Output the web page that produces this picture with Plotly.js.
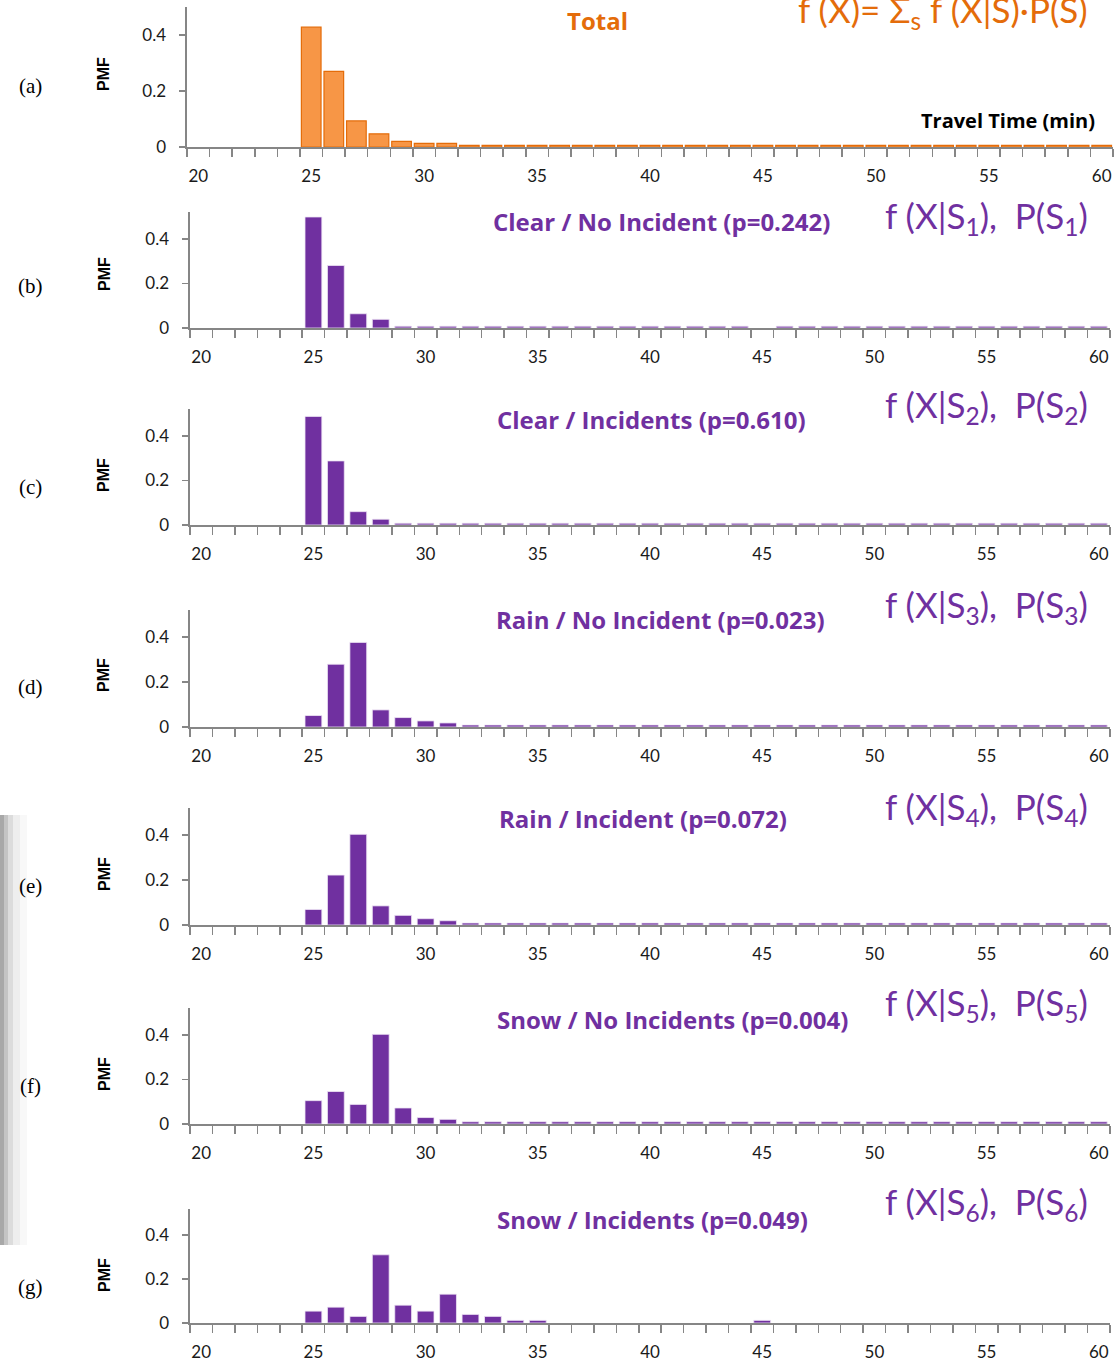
<!DOCTYPE html>
<html>
<head>
<meta charset="utf-8">
<script src="https://cdn.plot.ly/plotly-3.0.1.min.js"></script>
<style>html,body{margin:0;padding:0;background:#fff;}#chart{width:1116px;height:1361px;}</style>
</head>
<body>
<div id="chart"></div>
<script>
// Travel time categories (minutes)
const travelTime = [20,21,22,23,24,25,26,27,28,29,30,31,32,33,34,35,36,37,38,39,40,41,42,43,44,45,46,47,48,49,50,51,52,53,54,55,56,57,58,59,60];
const xTickLabels = ['20','25','30','35','40','45','50','55','60'];
const xTickVals = [20,25,30,35,40,45,50,55,60];
const yTickVals = [0,0.2,0.4];
const yTickLabels = ['0','0.2','0.4'];

// (a) Total
const pmfTotal = [0,0,0,0,0, 0.428,0.270,0.093,0.047,0.020,0.013,0.013,
  0.006,0.006,0.006,0.006,0.006,0.006,0.006,0.006,0.006,0.006,0.006,0.006,0.006,0.006,0.006,0.006,0.006,0.006,0.006,0.006,0.006,0.006,0.006,0.006,0.006,0.006,0.006,0.006,0.006];
// (b) Clear / No Incident
const pmfClearNo = [0,0,0,0,0, 0.499,0.281,0.064,0.039,
  0.008,0.008,0.008,0.008,0.008,0.008,0.008,0.008,0.008,0.008,0.008,0.008,0.008,0.008,0.008,0.008,
  0,
  0.008,0.008,0.008,0.008,0.008,0.008,0.008,0.008,0.008,0.008,0.008,0.008,0.008,0.008,0.008];
// (c) Clear / Incidents
const pmfClearInc = [0,0,0,0,0, 0.488,0.288,0.060,0.026,
  0.008,0.008,0.008,0.008,0.008,0.008,0.008,0.008,0.008,0.008,0.008,0.008,0.008,0.008,0.008,0.008,
  0.008,0.008,0.008,0.008,0.008,0.008,0.008,0.008,0.008,0.008,0.008,0.008,0.008,0.008,0.008,0.008];
// (d) Rain / No Incident
const pmfRainNo = [0,0,0,0,0, 0.051,0.279,0.376,0.076,0.042,0.027,0.018,
  0.009,0.009,0.009,0.009,0.009,0.009,0.009,0.009,0.009,0.009,0.009,0.009,0.009,0.009,0.009,0.009,0.009,0.009,0.009,0.009,0.009,0.009,0.009,0.009,0.009,0.009,0.009,0.009,0.009];
// (e) Rain / Incident
const pmfRainInc = [0,0,0,0,0, 0.069,0.222,0.403,0.085,0.043,0.028,0.019,
  0.009,0.009,0.009,0.009,0.009,0.009,0.009,0.009,0.009,0.009,0.009,0.009,0.009,0.009,0.009,0.009,0.009,0.009,0.009,0.009,0.009,0.009,0.009,0.009,0.009,0.009,0.009,0.009,0.009];
// (f) Snow / No Incidents
const pmfSnowNo = [0,0,0,0,0, 0.105,0.146,0.088,0.403,0.072,0.029,0.021,
  0.010,0.010,0.010,0.010,0.010,0.010,0.010,0.010,0.010,0.010,0.010,0.010,0.010,0.010,0.010,0.010,0.010,0.010,0.010,0.010,0.010,0.010,0.010,0.010,0.010,0.010,0.010,0.010,0.010];
// (g) Snow / Incidents
const pmfSnowInc = [0,0,0,0,0, 0.054,0.072,0.030,0.310,0.081,0.054,0.131,0.039,0.030,0.012,0.012,
  0,0,0,0,0,0,0,0,0,
  0.012,
  0,0,0,0,0,0,0,0,0,0,0,0,0,0,0];

const seriesList = [pmfTotal, pmfClearNo, pmfClearInc, pmfRainNo, pmfRainInc, pmfSnowNo, pmfSnowInc];
const panelLetters = ['(a)','(b)','(c)','(d)','(e)','(f)','(g)'];
const panelTitles = ['Total','Clear / No Incident (p=0.242)','Clear / Incidents (p=0.610)','Rain / No Incident (p=0.023)','Rain / Incident (p=0.072)','Snow / No Incidents (p=0.004)','Snow / Incidents (p=0.049)'];
const formulaTexts = ['f (X)= Σ<sub>s</sub> f (X|S)·P(S)',
  'f (X|S<sub>1</sub>),  P(S<sub>1</sub>)','f (X|S<sub>2</sub>),  P(S<sub>2</sub>)','f (X|S<sub>3</sub>),  P(S<sub>3</sub>)',
  'f (X|S<sub>4</sub>),  P(S<sub>4</sub>)','f (X|S<sub>5</sub>),  P(S<sub>5</sub>)','f (X|S<sub>6</sub>),  P(S<sub>6</sub>)'];
const xAxisTitle = 'Travel Time (min)';
const yAxisTitle = 'PMF';

// ---- layout geometry (pixels) ----
const W = 1116, H = 1361;
const px = p => p / W;
const py = p => 1 - p / H;
const ORANGE = '#F79646', ORANGE_DARK = '#E46C0A', PURPLE = '#7030A0', AXIS = '#868686';
const geo = [
  {zero:147, per:56,   ymax:0.50, x0:187, x1:1113, letterY:86,  titleX:597, titleY:21,  formY:12},
  {zero:328, per:44.5, ymax:0.52, x0:190, x1:1110, letterY:286, titleX:661, titleY:221, formY:217},
  {zero:525, per:44.5, ymax:0.52, x0:190, x1:1110, letterY:487, titleX:651, titleY:420, formY:407},
  {zero:727, per:45,   ymax:0.52, x0:190, x1:1110, letterY:687, titleX:660, titleY:620, formY:607},
  {zero:925, per:45,   ymax:0.52, x0:190, x1:1110, letterY:886, titleX:643, titleY:818, formY:808},
  {zero:1124,per:44.5, ymax:0.52, x0:190, x1:1110, letterY:1086,titleX:673, titleY:1019,formY:1005},
  {zero:1323,per:44,   ymax:0.52, x0:190, x1:1110, letterY:1287,titleX:652, titleY:1219,formY:1203}
];

const FONT = 'Lato, "Open Sans", sans-serif';
const TITLE_FONT = '"Open Sans", Lato, sans-serif';
const traces = [];
const layout = {
  width: W, height: H,
  margin: {l:0, r:0, t:0, b:0},
  paper_bgcolor: '#fff', plot_bgcolor: 'rgba(0,0,0,0)',
  showlegend: false,
  annotations: [], shapes: []
};

seriesList.forEach((vals, i) => {
  const g = geo[i];
  const sfx = i === 0 ? '' : String(i + 1);
  const isTotal = i === 0;
  const lw = isTotal ? 1.2 : 0.8;
  traces.push({
    type: 'bar', x: travelTime, y: vals,
    xaxis: 'x' + sfx, yaxis: 'y' + sfx,
    width: isTotal ? 0.87 : 0.75,
    marker: {color: isTotal ? ORANGE : PURPLE,
             line: {color: isTotal ? ORANGE_DARK : '#efe6f5', width: vals.map(v => v > 0 ? lw : 0)}},
    hoverinfo: 'x+y'
  });
  const top = g.zero - g.ymax / 0.2 * g.per;
  layout['xaxis' + sfx] = {
    domain: [px(g.x0), px(g.x1)], range: [19.5, 60.5], anchor: 'y' + sfx,
    tickmode: 'array', tickvals: xTickVals, ticktext: xTickLabels, ticks: '',
    minor: {tick0: 19.5, dtick: 1, ticks: 'outside', ticklen: 8, tickcolor: AXIS, tickwidth: 1.5, showgrid: false},
    showline: true, linecolor: AXIS, linewidth: 1.6,
    showgrid: false, zeroline: false, ticklabelstandoff: 13,
    tickfont: {family: FONT, size: 17, color: '#1a1a1a'}, fixedrange: true
  };
  layout['yaxis' + sfx] = {
    domain: [py(g.zero), py(top)], range: [0, g.ymax], anchor: 'x' + sfx,
    tickmode: 'array', tickvals: yTickVals, ticktext: yTickLabels,
    ticks: 'outside', ticklen: 6, tickcolor: AXIS, tickwidth: 1.5,
    showline: true, linecolor: AXIS, linewidth: 1.6,
    showgrid: false, zeroline: false, ticklabelstandoff: 10,
    tickfont: {family: FONT, size: 17, color: '#1a1a1a'}, fixedrange: true
  };
  // PMF label
  layout.annotations.push({xref:'paper', yref:'paper', x: px(104), y: py(g.letterY - 12), text: '<b>' + yAxisTitle + '</b>',
    textangle: -90, showarrow: false, xanchor: 'center', yanchor: 'middle',
    font: {family: '"Liberation Sans", Arial, sans-serif', size: 16, color: '#000'}});
  // panel letter
  layout.annotations.push({xref:'paper', yref:'paper', x: px(30), y: py(g.letterY), text: panelLetters[i],
    showarrow: false, xanchor: 'center', yanchor: 'middle',
    font: {family: '"Liberation Serif", "DejaVu Serif", serif', size: 21, color: '#000'}});
  // panel title
  layout.annotations.push({xref:'paper', yref:'paper', x: px(g.titleX), y: py(g.titleY), text: '<b>' + panelTitles[i] + '</b>',
    showarrow: false, xanchor: 'center', yanchor: 'middle',
    font: {family: TITLE_FONT, size: 24, color: isTotal ? ORANGE_DARK : PURPLE}});
  // formula
  layout.annotations.push({xref:'paper', yref:'paper', x: px(1090), y: py(g.formY), text: formulaTexts[i],
    showarrow: false, xanchor: 'right', yanchor: 'middle',
    font: {family: FONT, size: 35, color: isTotal ? ORANGE_DARK : PURPLE}});
});

// axis title in panel (a)
layout.annotations.push({xref:'paper', yref:'paper', x: px(1097), y: py(121), text: '<b>' + xAxisTitle + '</b>',
  showarrow: false, xanchor: 'right', yanchor: 'middle',
  font: {family: TITLE_FONT, size: 20, color: '#000'}});

// scanned page edge shadow on the left
[[0, 4, '#a8a8a8'], [4, 8, '#c4c4c4'], [8, 13, '#dcdcdc'], [13, 20, '#eeeeee'], [20, 27, '#f8f8f8']].forEach(s => {
  layout.shapes.push({type:'rect', xref:'paper', yref:'paper', x0: px(s[0]), x1: px(s[1]), y0: py(1245), y1: py(815),
    fillcolor: s[2], line: {width: 0}, layer: 'below'});
});

Plotly.newPlot('chart', traces, layout, {displayModeBar: false, staticPlot: true});
</script>
</body>
</html>
